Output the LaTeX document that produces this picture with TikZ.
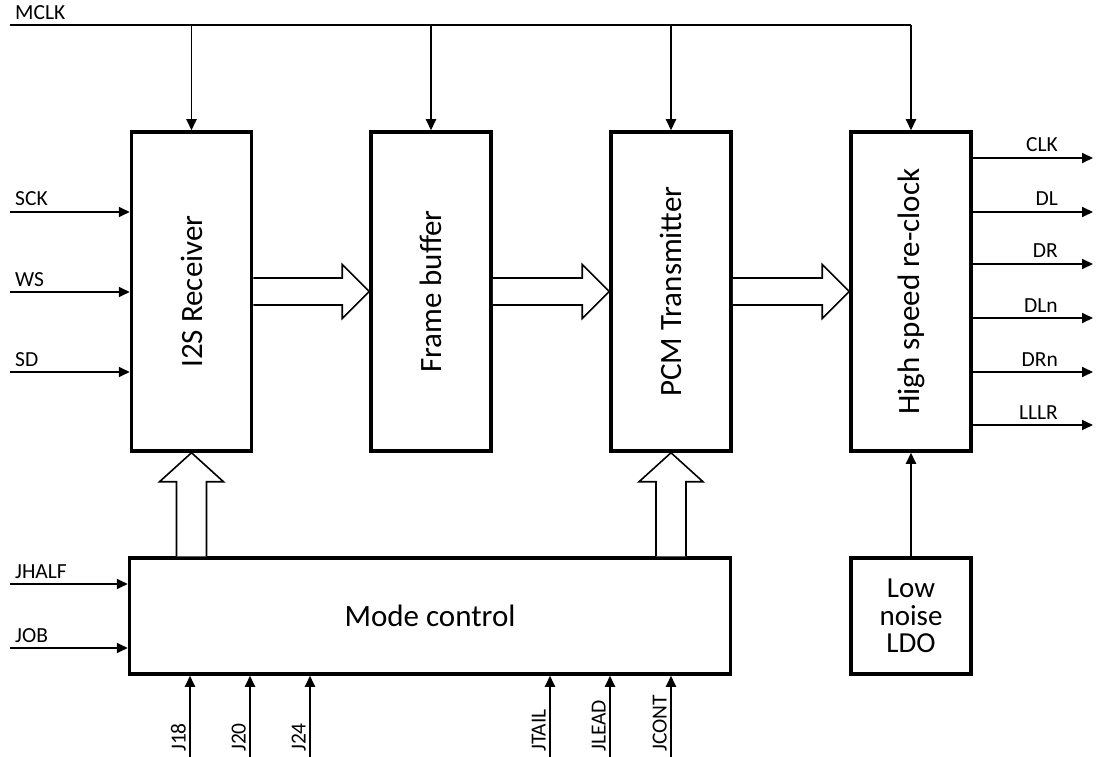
\documentclass[tikz,border=0pt]{standalone}
\usepackage{fontspec}
\setmainfont{Carlito}
\usetikzlibrary{arrows.meta,calc}
\tikzset{
  blk/.style={draw, line width=3.5pt, fill=white, minimum width=120pt, minimum height=319pt, inner sep=0pt},
  sig/.style={line width=1.9pt, -{Triangle[length=11pt,width=10pt]}},
  hollow/.style={line width=1.6pt, fill=white, line join=miter},
  lbl/.style={font=\fontsize{21.5}{24}\selectfont, inner sep=0pt},
  big/.style={font=\fontsize{31}{36}\selectfont, inner sep=0pt},
}
\newcommand\harrow[2]{\draw[hollow] let \p1=(#1), \p2=(#2) in
  (\x1,\y1+13.5pt) -- (\x2-27pt,\y1+13.5pt) -- (\x2-27pt,\y1+27pt) -- (\x2,\y1)
  -- (\x2-27pt,\y1-27pt) -- (\x2-27pt,\y1-13.5pt) -- (\x1,\y1-13.5pt);}
\newcommand\varrow[2]{\draw[hollow] let \p1=(#1), \p2=(#2) in
  (\x1-15pt,\y1) -- (\x1-15pt,\y2-29pt) -- (\x1-32pt,\y2-29pt) -- (\x1,\y2)
  -- (\x1+32pt,\y2-29pt) -- (\x1+15pt,\y2-29pt) -- (\x1+15pt,\y1);}
\begin{document}
\begin{tikzpicture}[x=1pt,y=-1pt]
\useasboundingbox (0,0) rectangle (1096,757);
% blocks
\node[blk] (i2s) at (191.5,291.5) {};
\node[big, rotate=90] (i2st) at (i2s.center) {I2S Receiver};
\node[blk] (fb) at (431,291.5) {};
\node[big, rotate=90] (fbt) at (fb.center) {Frame buffer};
\node[blk] (pcm) at (671,291.5) {};
\node[big, rotate=90] (pcmt) at (pcm.center) {PCM Transmitter};
\node[blk] (hs) at (911,291.5) {};
\node[big, rotate=90] (hst) at (hs.center) {High speed re-clock};
\node[blk, minimum width=601pt, minimum height=116pt, big] (mode) at (430,616) {Mode control};
\node[blk, minimum width=120pt, minimum height=116pt, align=center,
      font=\fontsize{29}{27.5}\selectfont] (ldo) at (911,616) {Low\\noise\\LDO};
% MCLK
\coordinate (mclk) at (10,25);
\draw[line width=1.9pt] (mclk) -- (hs.north |- mclk);
\node[lbl, anchor=base west] (mclkl) at (15,20) {MCLK};
\foreach \b in {i2s,fb,pcm,hs}{\draw[sig] (\b.north |- mclk) -- (\b.north);}
% left inputs
\coordinate (sck) at (10,212);
\coordinate (ws) at (10,292);
\coordinate (sd) at (10,372);
\coordinate (jhalf) at (10,584);
\coordinate (job) at (10,648);
\foreach \c/\t in {sck/SCK,ws/WS,sd/SD}{
  \draw[sig] (\c) -- (\c -| i2s.west);
  \node[lbl, anchor=base west] (\c l) at ($(\c)+(5,-6)$) {\t};}
\foreach \c/\t in {jhalf/JHALF,job/JOB}{
  \draw[sig] (\c) -- (\c -| mode.west);
  \node[lbl, anchor=base west] (\c l) at ($(\c)+(5,-6)$) {\t};}
% outputs
\foreach \c/\y/\t in {clk/158/CLK,dl/212/DL,dr/264/DR,dln/318/DLn,drn/372/DRn,lllr/425/LLLR}{
  \coordinate (\c) at (1093,\y);
  \draw[sig] (\c -| hs.east) -- (\c);
  \node[lbl, anchor=base east] (\c l) at ($(\c)+(-35,-6)$) {\t};}
% bottom inputs
\foreach \c/\x/\t in {j18/190/J18,j20/250/J20,j24/310/J24,jtail/550/JTAIL,jlead/610/JLEAD,jcont/671/JCONT}{
  \coordinate (\c) at (\x,757);
  \draw[sig] (\c) -- (\c |- mode.south);
  \node[lbl, rotate=90, anchor=base west] (\c l) at ($(\c)+(-4.5,-5)$) {\t};}
% LDO to re-clock
\draw[sig] (ldo.north) -- (hs.south);
% hollow arrows
\harrow{i2s.east}{fb.west}
\harrow{fb.east}{pcm.west}
\harrow{pcm.east}{hs.west}
\varrow{i2s.south |- mode.north}{i2s.south}
\varrow{pcm.south |- mode.north}{pcm.south}
\end{tikzpicture}
\end{document}
